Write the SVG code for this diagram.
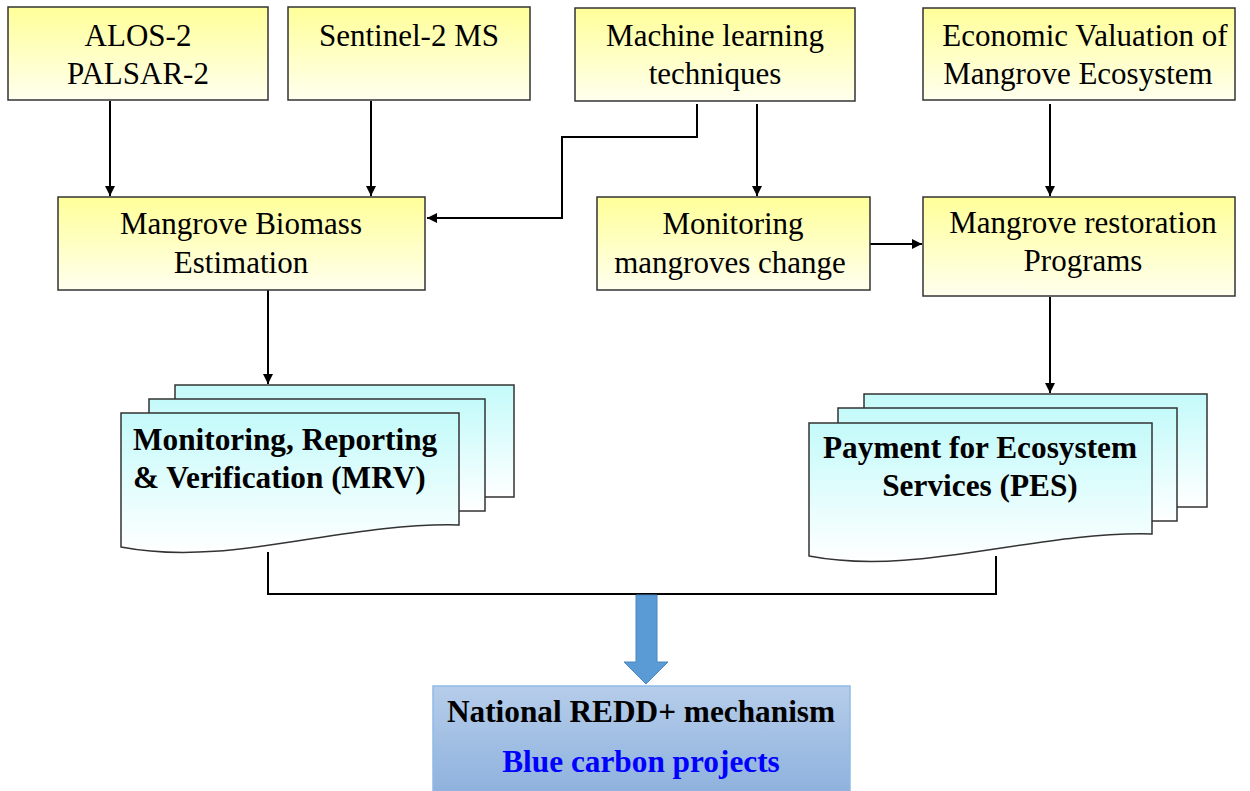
<svg xmlns="http://www.w3.org/2000/svg" width="1250" height="791" viewBox="0 0 1250 791">
<defs>
<linearGradient id="gy" x1="0" y1="0" x2="0" y2="1">
<stop offset="0" stop-color="#ffff99"/>
<stop offset="1" stop-color="#ffffee"/>
</linearGradient>
<linearGradient id="gc" x1="0" y1="0" x2="0" y2="1">
<stop offset="0" stop-color="#c4fafa"/>
<stop offset="1" stop-color="#ffffff"/>
</linearGradient>
<linearGradient id="gb" x1="0" y1="0" x2="0" y2="1">
<stop offset="0" stop-color="#b6cdea"/>
<stop offset="1" stop-color="#8db1dd"/>
</linearGradient>
<marker id="ah" viewBox="0 0 10 10" refX="10" refY="5" markerWidth="10" markerHeight="10" markerUnits="userSpaceOnUse" orient="auto">
<path d="M0,0 L10,5 L0,10 z" fill="#000"/>
</marker>
</defs>
<style>
.box{fill:url(#gy);stroke:#333;stroke-width:1.5}
.doc{fill:url(#gc);stroke:#333;stroke-width:1.5}
.t{font-family:"Liberation Serif","Times New Roman",serif;font-size:31px;fill:#000;text-anchor:middle}
.b{font-family:"Liberation Serif","Times New Roman",serif;font-size:31.3px;font-weight:bold;fill:#000}
.c{fill:none;stroke:#000;stroke-width:2}
</style>

<g id="connectors">
<path class="c" d="M110,101 V196" marker-end="url(#ah)"/>
<path class="c" d="M371,101 V196" marker-end="url(#ah)"/>
<path class="c" d="M697,104 V137 H562 V218 H427" marker-end="url(#ah)"/>
<path class="c" d="M757,104 V196" marker-end="url(#ah)"/>
<path class="c" d="M1050,104 V196" marker-end="url(#ah)"/>
<path class="c" d="M870,244 H922" marker-end="url(#ah)"/>
<path class="c" d="M268,290 V384" marker-end="url(#ah)"/>
<path class="c" d="M1050,297 V393" marker-end="url(#ah)"/>
<path class="c" d="M268,552 V594 H996 V556"/>
<path d="M636,595 H657 V662 H668 L646,684 L624,662 H636 Z" fill="#5b9bd5" stroke="#4a86c0" stroke-width="1"/>
</g>

<g id="alos">
<rect class="box" x="8" y="7" width="260" height="93"/>
<text class="t" x="138" y="46">ALOS-2</text>
<text class="t" x="138" y="84">PALSAR-2</text>
</g>
<g id="sentinel">
<rect class="box" x="288" y="7" width="242" height="93"/>
<text class="t" x="409" y="46">Sentinel-2 MS</text>
</g>
<g id="ml">
<rect class="box" x="575" y="8" width="280" height="93"/>
<text class="t" x="715" y="46">Machine learning</text>
<text class="t" x="715" y="84">techniques</text>
</g>
<g id="econ">
<rect class="box" x="923" y="8" width="312" height="92"/>
<text class="t" x="1085" y="46">Economic Valuation of</text>
<text class="t" x="1078" y="84">Mangrove Ecosystem</text>
</g>
<g id="biomass">
<rect class="box" x="58" y="197" width="367" height="93"/>
<text class="t" x="241" y="234">Mangrove Biomass</text>
<text class="t" x="241" y="273">Estimation</text>
</g>
<g id="monitoring">
<rect class="box" x="597" y="197" width="273" height="93"/>
<text class="t" x="733" y="234">Monitoring</text>
<text class="t" x="730" y="273">mangroves change</text>
</g>
<g id="restoration">
<rect class="box" x="923" y="197" width="312" height="99"/>
<text class="t" x="1083" y="233">Mangrove restoration</text>
<text class="t" x="1083" y="271">Programs</text>
</g>

<g id="mrv">
<rect class="doc" x="175" y="385" width="339" height="112"/>
<rect class="doc" x="149" y="399" width="336" height="112"/>
<path class="doc" d="M121,413 H459 V525 C340,522 230,568 121,547 Z"/>
<text class="b" x="133" y="450">Monitoring, Reporting</text>
<text class="b" x="133" y="488">&amp; Verification (MRV)</text>
</g>

<g id="pes">
<rect class="doc" x="864" y="394" width="343" height="113"/>
<rect class="doc" x="838" y="408" width="339" height="113"/>
<path class="doc" d="M809,423 H1152 V534 C1033,531 918,577 809,556 Z"/>
<text class="b" x="980" y="458" text-anchor="middle">Payment for Ecosystem</text>
<text class="b" x="980" y="496" text-anchor="middle">Services (PES)</text>
</g>

<g id="redd">
<rect x="433" y="686" width="417" height="110" fill="url(#gb)" stroke="#8fbbe6" stroke-width="1.5"/>
<text class="b" x="641" y="722" text-anchor="middle">National REDD+ mechanism</text>
<text class="b" x="641" y="772" text-anchor="middle" style="fill:#0000ff">Blue carbon projects</text>
</g>
</svg>
